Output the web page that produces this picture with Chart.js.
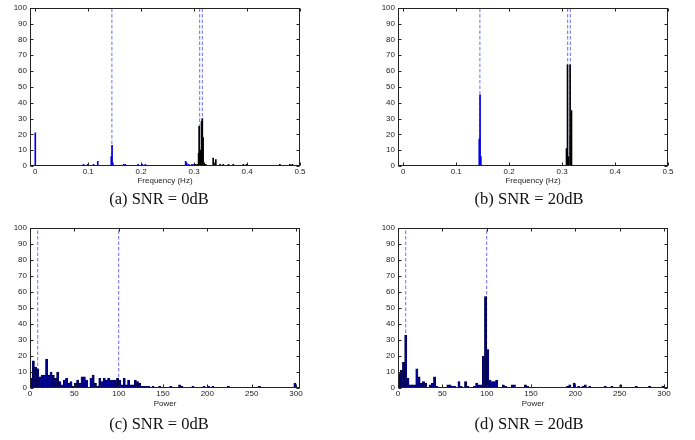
<!DOCTYPE html>
<html><head><meta charset="utf-8">
<script src="https://cdn.jsdelivr.net/npm/chart.js@4.4.1/dist/chart.umd.min.js"></script>
<style>
html,body{margin:0;padding:0;background:#fff;}
#wrap{position:relative;width:695px;height:440px;overflow:hidden;background:#fff;}
canvas{position:absolute;}
.cap{position:absolute;font-family:"Liberation Serif","Times New Roman",serif;font-size:16.5px;color:#111;white-space:nowrap;transform:translate(-50%,-50%);}
</style></head><body>
<div id="wrap">
<canvas id="ca" width="347" height="220" style="left:0;top:0"></canvas>
<canvas id="cb" width="347" height="220" style="left:348px;top:0"></canvas>
<canvas id="cc" width="347" height="220" style="left:0;top:220px"></canvas>
<canvas id="cd" width="347" height="220" style="left:348px;top:220px"></canvas>
<div class="cap" style="left:159px;top:199px">(a) SNR = 0dB</div>
<div class="cap" style="left:529px;top:199px">(b) SNR = 20dB</div>
<div class="cap" style="left:159px;top:424px">(c) SNR = 0dB</div>
<div class="cap" style="left:529px;top:424px">(d) SNR = 20dB</div>
</div>
<script>
// ---- tick labels ----
const yTicks = [0,10,20,30,40,50,60,70,80,90,100];
const freqTicks = [0,0.1,0.2,0.3,0.4,0.5];
const powerTicks = [0,50,100,150,200,250,300];

// ---- reference (dashed) positions ----
const freqLines = [0.1447, 0.3105, 0.3155];
const powerLines = [8.7, 100];

// ---- (a) SNR = 0dB, frequency spectrum ----
const blueFreqA = [0.000, 0.091, 0.099, 0.110, 0.118, 0.1435, 0.1450, 0.1465, 0.167, 0.170, 0.194, 0.202, 0.208, 0.284, 0.286, 0.290, 0.296];
const blueAmpA  = [21, 1, 1, 1, 3, 6, 13, 2, 1, 1, 1, 1, 1, 3, 2, 1, 1];
const blackFreqA = [0.300, 0.303, 0.306, 0.3085, 0.3095, 0.311, 0.3125, 0.314, 0.3155, 0.317, 0.319, 0.322, 0.336, 0.3375, 0.341, 0.349, 0.355, 0.365, 0.374, 0.393, 0.399, 0.462, 0.481, 0.4855];
const blackAmpA  = [1, 1, 1, 8, 25, 9, 10, 28, 30, 18, 2, 1, 5, 2, 4, 1, 1, 1, 1, 1, 1, 1, 1, 1];

// ---- (b) SNR = 20dB, frequency spectrum ----
const blueFreqB = [0.1435, 0.1450, 0.1465];
const blueAmpB  = [17, 45, 6];
const blackFreqB = [0.3083, 0.3102, 0.3120, 0.3151, 0.3160, 0.3177];
const blackAmpB  = [11, 64, 6, 64, 19, 35];

// ---- (c) SNR = 0dB, power histogram ----
const binsC = [1.25,3.75,6.25,8.75,11.25,13.75,16.25,18.75,21.25,23.75,26.25,28.75,31.25,33.75,36.25,38.75,41.25,43.75,46.25,48.75,51.25,53.75,56.25,58.75,61.25,63.75,
  68.75,71.25,73.75,76.25,78.75,81.25,83.75,86.25,88.75,91.25,93.75,96.25,98.75,101.25,103.75,106.25,108.75,111.25,113.75,116.25,118.75,121.25,123.75,126.25,128.75,131.25,133.75,
  138.75,146.25,158.75,168.75,171.25,183.75,196.25,201.25,206.25,223.75,258.75,298.75];
const countsC = [6,17,13,12,7,8,8,18,8,10,8,6,10,4,2,5,6,3,4,1,3,5,3,7,7,5,
  6,8,3,1,6,4,6,5,6,5,5,5,6,5,2,6,2,5,2,2,5,4,3,1,1,1,1,
  1,1,1,2,1,1,1,1,1,1,1,3];

// ---- (d) SNR = 20dB, power histogram ----
const binsD = [1.25,3.75,6.25,8.75,11.25,13.75,16.25,18.75,21.25,23.75,26.25,28.75,31.25,
  36.25,38.75,41.25,43.75,56.25,58.75,61.25,63.75,68.75,71.25,76.25,78.75,
  86.25,88.75,91.25,93.75,96.25,98.75,101.25,103.75,106.25,108.75,111.25,
  118.75,121.25,128.75,131.25,143.75,146.25,191.25,193.75,198.75,203.75,208.75,211.25,216.25,
  233.75,241.25,251.25,268.75,283.75,298.75];
const countsD = [9,11,16,33,6,2,2,2,12,7,3,4,3,
  2,3,7,1,2,2,1,1,4,1,4,1,
  1,3,2,2,20,57,24,5,4,4,5,
  2,1,2,2,2,1,1,2,3,1,1,2,1,
  1,1,2,1,1,1];

const AXIS = '#222';
const TXT = '#222';
const SANS = '"Liberation Sans", Arial, Helvetica, sans-serif';

const boxTicks = {
  id: 'boxTicks',
  afterDraw(chart) {
    const {ctx, chartArea: a, scales: {x, y}} = chart;
    const L = Math.round(a.left) + 0.5, R = Math.round(a.right) - 0.5;
    const T = Math.round(a.top) + 0.5, B = Math.round(a.bottom) - 0.5;
    const tl = 3;
    ctx.save();
    ctx.strokeStyle = AXIS;
    ctx.lineWidth = 1;
    ctx.beginPath();
    x.ticks.forEach(t => {
      const px = Math.round(x.getPixelForValue(t.value)) + 0.5;
      ctx.moveTo(px, B); ctx.lineTo(px, B - tl);
      ctx.moveTo(px, T); ctx.lineTo(px, T + tl);
    });
    y.ticks.forEach(t => {
      const py = Math.round(y.getPixelForValue(t.value)) + 0.5;
      ctx.moveTo(L, py); ctx.lineTo(L + tl, py);
      ctx.moveTo(R, py); ctx.lineTo(R - tl, py);
    });
    ctx.stroke();
    ctx.strokeRect(L, T, R - L, B - T);
    ctx.restore();
  }
};

function dashed(vals) {
  return vals.map(v => ({
    type: 'line',
    data: [{x: v, y: 0}, {x: v, y: 100}],
    borderColor: '#6f6fff',
    borderWidth: 1,
    borderDash: [3.5, 2],
    pointRadius: 0,
    fill: false,
    order: 5
  }));
}
function stems(xs, ys, color) {
  return {
    type: 'bar',
    data: xs.map((v, i) => ({x: v, y: ys[i]})),
    backgroundColor: color,
    borderWidth: 0,
    barThickness: 1,
    grouped: false,
    order: 1
  };
}
function hist(xs, ys) {
  return {
    type: 'bar',
    data: xs.map((v, i) => ({x: v, y: ys[i]})),
    backgroundColor: '#00008f',
    borderColor: '#000033',
    borderWidth: 0.5,
    barPercentage: 1,
    categoryPercentage: 1,
    grouped: false,
    order: 1
  };
}

function make(id, pad, xMin, xMax, xT, xTitle, titlePadB, datasets) {
  return new Chart(document.getElementById(id), {
    type: 'bar',
    data: {datasets},
    plugins: [boxTicks],
    options: {
      responsive: false,
      animation: false,
      devicePixelRatio: 1,
      layout: {padding: pad},
      plugins: {legend: {display: false}, tooltip: {enabled: false}},
      scales: {
        x: {
          type: 'linear', min: xMin, max: xMax, offset: false,
          grid: {display: false, drawTicks: false, offset: false},
          border: {display: false},
          afterBuildTicks: s => { s.ticks = xT.map(v => ({value: v})); },
          afterFit: s => { s.height = 24; },
          ticks: {padding: 1, color: TXT, font: {family: SANS, size: 8}, maxRotation: 0, autoSkip: false,
                  callback: v => String(v)},
          title: {display: true, text: xTitle, color: TXT, font: {family: SANS, size: 8},
                  padding: {top: 0, bottom: titlePadB}}
        },
        y: {
          type: 'linear', min: 0, max: 100,
          grid: {display: false, drawTicks: false},
          border: {display: false},
          afterBuildTicks: s => { s.ticks = yTicks.map(v => ({value: v})); },
          afterFit: s => { s.width = 30; },
          ticks: {padding: 3, color: TXT, font: {family: SANS, size: 8}, autoSkip: false,
                  callback: v => String(v)}
        }
      }
    }
  });
}

make('ca', {left: 0, right: 47, top: 6, bottom: 30}, -0.01, 0.5, freqTicks, 'Frequency (Hz)', 4,
  [stems(blueFreqA, blueAmpA, '#0000e6'), stems(blackFreqA, blackAmpA, '#000000'), ...dashed(freqLines)]);
make('cb', {left: 20, right: 27, top: 6, bottom: 30}, -0.01, 0.5, freqTicks, 'Frequency (Hz)', 4,
  [stems(blueFreqB, blueAmpB, '#0000e6'), stems(blackFreqB, blackAmpB, '#000000'), ...dashed(freqLines)]);
make('cc', {left: 0, right: 47, top: 7, bottom: 28}, 0, 304.5, powerTicks, 'Power', 3.5,
  [hist(binsC, countsC), ...dashed(powerLines)]);
make('cd', {left: 20, right: 27, top: 7, bottom: 28}, 0, 304.5, powerTicks, 'Power', 3.5,
  [hist(binsD, countsD), ...dashed(powerLines)]);
</script>
</body></html>
